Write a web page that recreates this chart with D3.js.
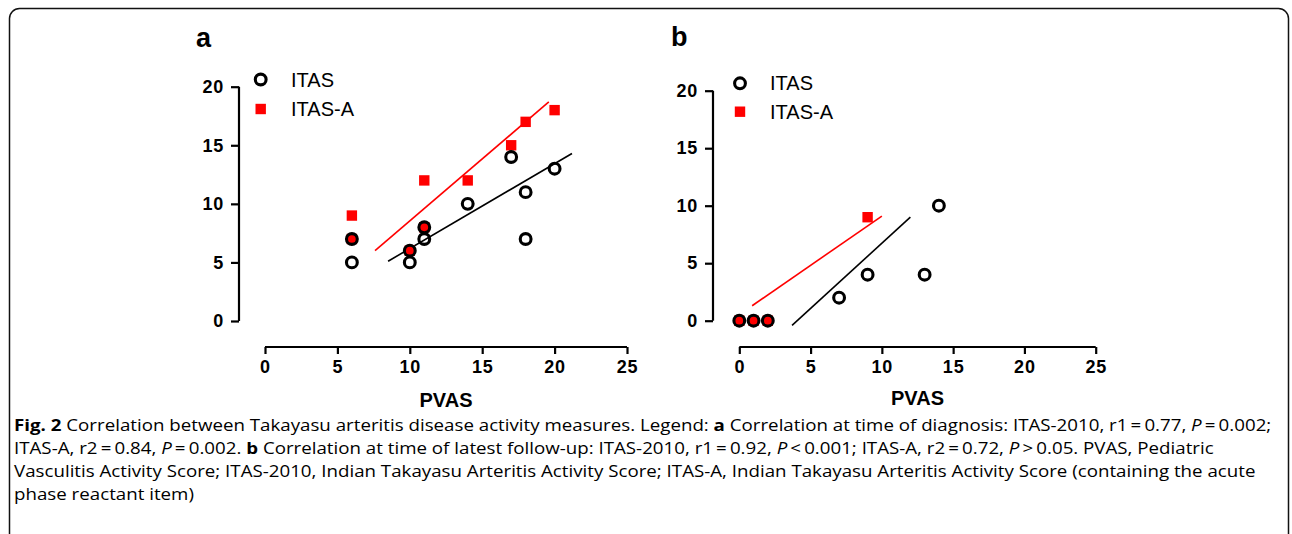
<!DOCTYPE html>
<html><head><meta charset="utf-8">
<script src="https://cdn.jsdelivr.net/npm/d3@7"></script>
<style>body{margin:0;background:#fff}svg{display:block}</style>
</head><body>
<svg id="c" width="1292" height="534"></svg>
<script>
// ---- data ----
const xTicks = [0, 5, 10, 15, 20, 25];
const yTicks = [0, 5, 10, 15, 20];
const seriesNames = ["ITAS", "ITAS-A"];
// panel a (time of diagnosis)
const aItas  = [[6,7],[6,5],[10,6],[10,5],[11,8],[11,7],[14,10],[17,14],[18,11],[18,7],[20,13]];
const aItasA = [[6,9],[6,7],[10,6],[11,12],[11,8],[14,12],[17,15],[18,17],[20,18]];
const aFitItas  = [[8.5,5.1],[21.2,14.3]];
const aFitItasA = [[7.6,6.0],[19.6,18.7]];
// panel b (latest follow-up)
const bItas  = [[0,0],[1,0],[2,0],[7,2],[9,4],[13,4],[14,10]];
const bItasA = [[0,0],[1,0],[2,0],[9,9]];
const bFitItas  = [[3.7,-0.4],[12.0,9.0]];
const bFitItasA = [[0.9,1.3],[10.0,9.1]];
const captionLines = [
  [["b","Fig. 2"],["n"," Correlation between Takayasu arteritis disease activity measures. Legend: "],["b","a"],["n"," Correlation at time of diagnosis: ITAS-2010, r1\u2009=\u20090.77, "],["i","P"],["n","\u2009=\u20090.002;"]],
  [["n","ITAS-A, r2\u2009=\u20090.84, "],["i","P"],["n","\u2009=\u20090.002. "],["b","b"],["n"," Correlation at time of latest follow-up: ITAS-2010, r1\u2009=\u20090.92, "],["i","P"],["n","\u2009<\u20090.001; ITAS-A, r2\u2009=\u20090.72, "],["i","P"],["n","\u2009>\u20090.05. PVAS, Pediatric"]],
  [["n","Vasculitis Activity Score; ITAS-2010, Indian Takayasu Arteritis Activity Score; ITAS-A, Indian Takayasu Arteritis Activity Score (containing the acute"]],
  [["n","phase reactant item)"]]
];

const svg = d3.select("#c");
const RED = "#ff0000";

// frame
svg.append("rect").attr("x",9.5).attr("y",8.5).attr("width",1279).attr("height",540)
  .attr("rx",10).attr("fill","none").attr("stroke","#111").attr("stroke-width",1.5);

function panel(cfg){
  const g = svg.append("g");
  const x = d3.scaleLinear().domain([0,25]).range([cfg.x0, cfg.x1]);
  const y = d3.scaleLinear().domain([0,20]).range([cfg.y0, cfg.y1]);
  const ya = g.append("g").attr("transform",`translate(${cfg.yAxisX},0)`)
    .call(d3.axisLeft(y).tickValues(yTicks).tickSize(8).tickPadding(7).tickFormat(d3.format("d")));
  const xa = g.append("g").attr("transform",`translate(0,${cfg.xAxisY})`)
    .call(d3.axisBottom(x).tickValues(xTicks).tickSize(7).tickPadding(6).tickFormat(d3.format("d")));
  [ya,xa].forEach(a=>{
    a.select(".domain").attr("stroke","#000").attr("stroke-width",2.2);
    a.selectAll(".tick line").attr("stroke","#000").attr("stroke-width",2.2);
    a.selectAll(".tick text").attr("fill","#000").attr("font-family","Liberation Sans, Arial, sans-serif")
      .attr("font-weight","bold").attr("font-size",18).style("letter-spacing","0.8px");
  });
  ya.select(".domain").attr("d",`M0,${y(0)}V${y(20)}`);
  xa.select(".domain").attr("d",`M${x(0)},0H${x(25)}`);
  g.append("text").attr("x",(x(0)+x(25))/2).attr("y",cfg.xLabelY).attr("text-anchor","middle")
    .attr("font-family","Liberation Sans, Arial, sans-serif").attr("font-weight","bold").attr("font-size",20)
    .text("PVAS");
  g.append("text").attr("x",cfg.letterX).attr("y",cfg.letterY)
    .attr("font-family","Liberation Sans, Arial, sans-serif").attr("font-weight","bold").attr("font-size",27)
    .text(cfg.letter);
  const line = d3.line().x(d=>x(d[0])).y(d=>y(d[1]));
  g.append("path").attr("d",line(cfg.fitA)).attr("stroke",RED).attr("stroke-width",1.6).attr("fill","none");
  g.append("path").attr("d",line(cfg.fit)).attr("stroke","#000").attr("stroke-width",1.6).attr("fill","none");
  g.selectAll(".sq").data(cfg.itasA).enter().append("rect")
    .attr("x",d=>x(d[0])-5.2).attr("y",d=>y(d[1])-5.2).attr("width",10.4).attr("height",10.4).attr("fill",RED);
  g.selectAll(".ci").data(cfg.itas).enter().append("circle")
    .attr("cx",d=>x(d[0])).attr("cy",d=>y(d[1])).attr("r",5.4)
    .attr("fill","none").attr("stroke","#000").attr("stroke-width",3.1);
  const lg = g.append("g");
  lg.append("circle").attr("cx",cfg.legX).attr("cy",cfg.legY1).attr("r",5.4)
    .attr("fill","none").attr("stroke","#000").attr("stroke-width",3.1);
  lg.append("rect").attr("x",cfg.legX-5.2).attr("y",cfg.legY2-5.2).attr("width",10.4).attr("height",10.4).attr("fill",RED);
  [cfg.legY1,cfg.legY2].forEach((ly,i)=>{
    lg.append("text").attr("x",cfg.legTextX).attr("y",ly+7)
      .attr("font-family","Liberation Sans, Arial, sans-serif").attr("font-size",20).attr("fill","#000")
      .text(seriesNames[i]);
  });
}

panel({x0:265,x1:627,y0:321,y1:86.7,yAxisX:239,xAxisY:347,xLabelY:407,letter:"a",letterX:196,letterY:47,
  itas:aItas,itasA:aItasA,fit:aFitItas,fitA:aFitItasA,legX:260.7,legY1:79.5,legY2:109,legTextX:291});
panel({x0:739.3,x1:1095.7,y0:320.7,y1:90.7,yAxisX:713,xAxisY:347,xLabelY:405,letter:"b",letterX:671,letterY:46,
  itas:bItas,itasA:bItasA,fit:bFitItas,fitA:bFitItasA,legX:740,legY1:83.3,legY2:111.7,legTextX:770});

// caption (wide, short glyphs: smaller font stretched horizontally)
const SX = 1.17;
const cap = svg.append("g").attr("transform",`translate(14,0) scale(${SX},1)`)
  .attr("font-family","Open Sans, sans-serif").attr("font-size",16).attr("fill","#000");
captionLines.forEach((segs,i)=>{
  const t = cap.append("text").attr("x",0).attr("y",431+i*23).attr("xml:space","preserve");
  segs.forEach(s=>{
    const ts = t.append("tspan").text(s[1]);
    if(s[0]==="b") ts.attr("font-weight","bold");
    if(s[0]==="i") ts.attr("font-style","italic");
  });
});
</script>
</body></html>
